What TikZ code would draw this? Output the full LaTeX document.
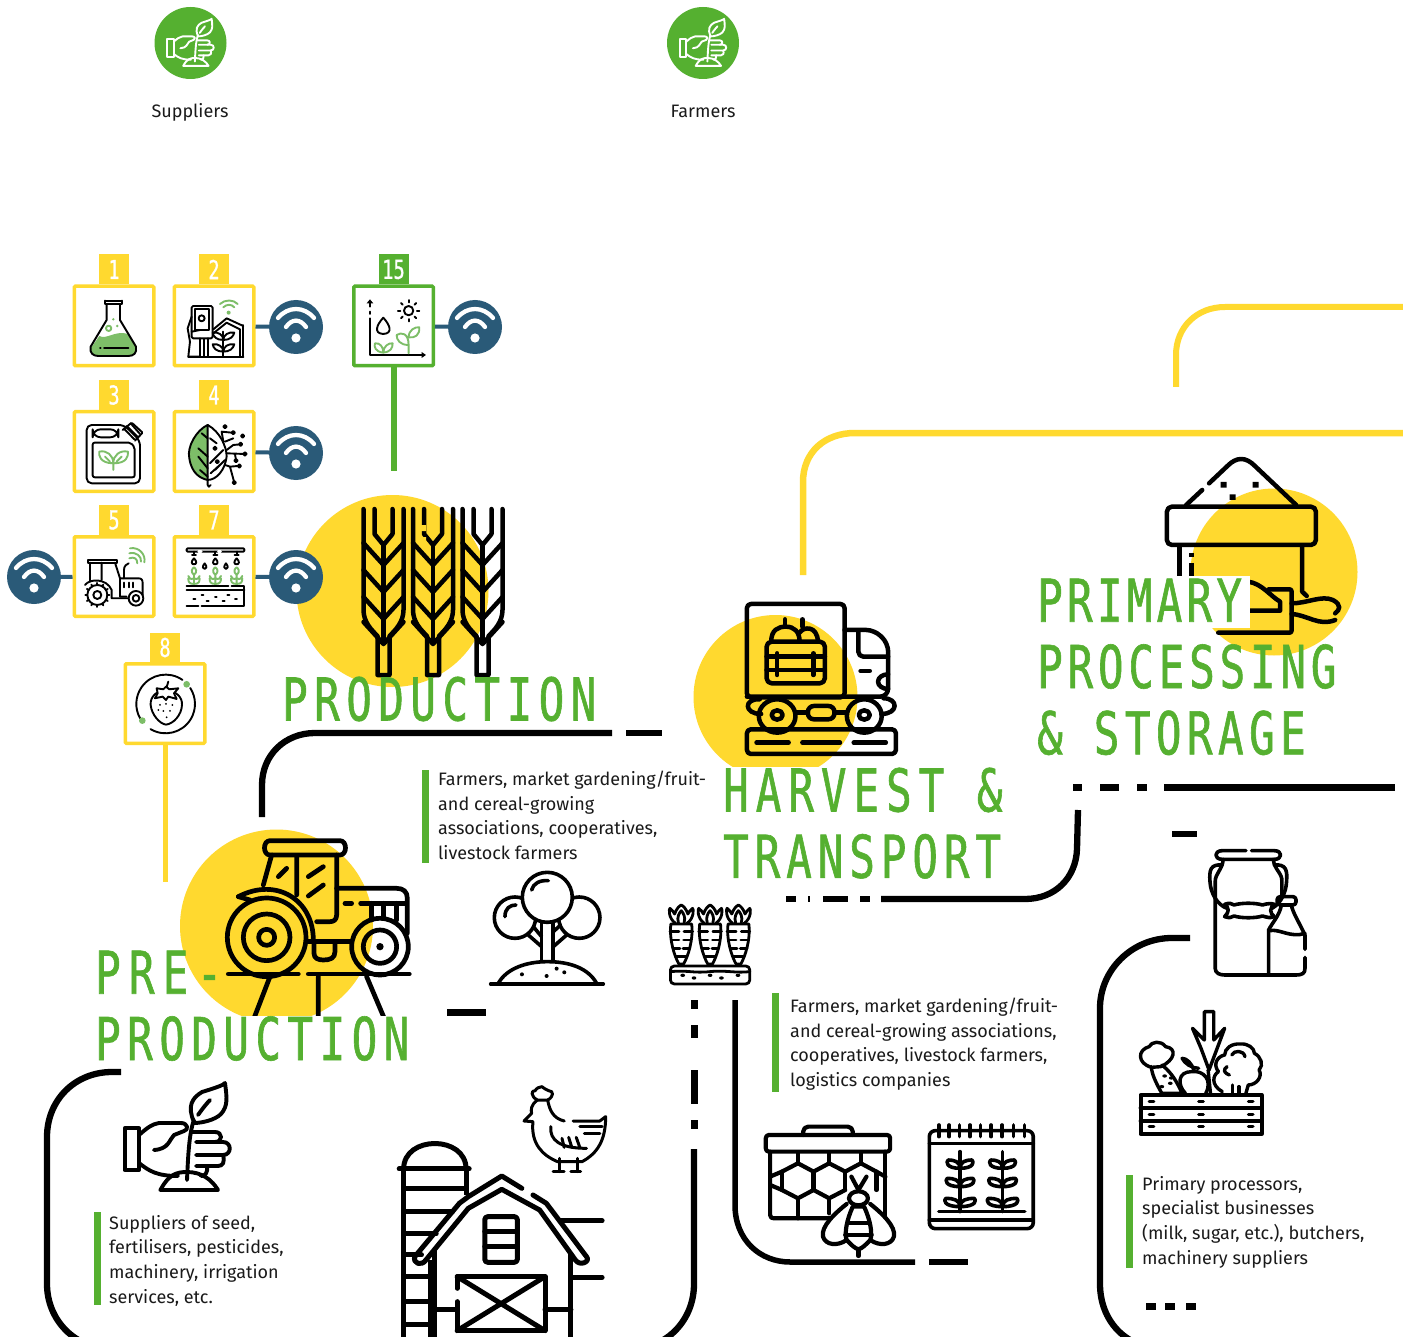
\documentclass[tikz,border=0pt]{standalone}
\usepackage{fontspec}
\setmainfont{Fira Sans}
\newfontfamily\titlefont[FakeStretch=0.72,LetterSpace=9.3,FakeBold=1.0]{DejaVu Sans Mono}
\newfontfamily\numfont[FakeStretch=0.72,FakeBold=0.8]{DejaVu Sans Mono}
\newcommand\ls[2]{{\addfontfeature{LetterSpace=#1}#2}}
\definecolor{ygold}{HTML}{FFD92F}
\definecolor{lgreen}{HTML}{55B030}
\definecolor{pale}{HTML}{7DBE68}
\definecolor{wifib}{HTML}{2A5A78}
\definecolor{ink}{HTML}{1A1A1A}
\tikzset{
  ybox/.style={draw=ygold,line width=3.5pt,fill=white,rounded corners=1pt,minimum size=79.5pt,inner sep=0pt},
  gbox/.style={ybox,draw=lgreen},
  ytab/.style={fill=ygold,minimum width=30pt,minimum height=30pt,inner sep=0pt,text=white,font=\numfont\fontsize{26}{26}\selectfont},
  gtab/.style={ytab,fill=lgreen},
  wdisc/.style={circle,fill=wifib,minimum size=54pt,inner sep=0pt},
  gdisc/.style={circle,fill=lgreen,minimum size=72pt,inner sep=0pt},
  wlink/.style={draw=wifib,line width=4pt},
  title/.style={anchor=north west,inner sep=0pt,text=lgreen,align=left,font=\titlefont\fontsize{59}{66.3}\selectfont},
  bodytext/.style={anchor=north west,inner sep=0pt,text=ink,align=left,font=\fontsize{18}{24.6}\selectfont},
  lab/.style={inner sep=0pt,anchor=base,text=ink,font=\fontsize{18}{22}\selectfont},
  route/.style={draw=black,line width=6.3pt},
  rdash/.style={draw=black,line width=7pt},
  yroute/.style={draw=ygold,line width=6pt},
  bar/.style={fill=lgreen,draw=none},
  ic/.style={draw=black,line width=#1,line cap=round,line join=round},
  ic/.default=4.5pt,
  tiny/.style={draw=black,line width=1.9pt,line cap=round,line join=round},
  tinyg/.style={draw=pale,line width=1.9pt,line cap=round,line join=round},
}
\newcommand\wifimark[1]{\begin{scope}[shift={(#1)}]
 \fill[white] (0,11) circle (4.6);
 \draw[white,line width=4.3pt,line cap=round] (-10,0) .. controls (-4,-8.5) and (4,-8.5) .. (10,0);
 \draw[white,line width=4.3pt,line cap=round] (-18,-9) .. controls (-8,-21) and (8,-21) .. (18,-9);
\end{scope}}
\newcommand\handglyph{%
 \draw (-52.4,-9.7) rectangle (-38,32);
 \draw (-38,-3) .. controls (-30,-10) and (-25,-14) .. (-18,-15) -- (4,-15) .. controls (11,-15) and (12,-8) .. (7,-7) -- (-3,-3) .. controls (-8,2) and (-8,11) .. (-23,12);
 \draw (15,-6) -- (38,-6) .. controls (46,-6) and (46,4) .. (38,4) -- (19,4);
 \draw (38,4) -- (46,4) .. controls (55,4) and (55,17) .. (46,17) -- (19,17);
 \draw (46,17) .. controls (48,24) and (46,28) .. (41,28) -- (19,28);
 \draw (-38,25) .. controls (-28,33) and (-20,38) .. (1,38);
 \draw (30,28) .. controls (31,35) and (28,38) .. (24,38);
 \draw (10,42) .. controls (11,20) and (12,-5) .. (17,-18);
 \draw (17,-16) .. controls (10,-32) and (15,-40) .. (25,-46) .. controls (38,-50) and (47,-53) .. (48,-55) .. controls (50,-40) and (51,-32) .. (44,-24) .. controls (38,-18) and (25,-15) .. (17,-15);
 \draw (21,-23) .. controls (26,-30) and (30,-35) .. (33,-38);
 \draw (-16.6,52) .. controls (-8,36) and (0,34) .. (10,34) .. controls (25,34) and (35,42) .. (41,52) -- cycle;
}
\newcommand\wheatglyph{%
 \draw (-20,509) -- (-20,610) .. controls (-20,622) and (-12,630) .. (-6,636) -- (-6,675) -- (6,675) -- (6,636) .. controls (12,630) and (20,622) .. (20,610) -- (20,509);
 \draw (-9,509) -- (-9,534) -- (0,545) -- (9,534) -- (9,509);
 \draw (0,545) -- (0,640);
 \foreach \yy in {543,570,597,622}{ \draw (-20,\yy) -- (0,\yy+22) -- (20,\yy); }
}
\begin{document}
\begin{tikzpicture}[x=1pt,y=-1pt]
\useasboundingbox (0,0) rectangle (1403,1337);
\clip (0,0) rectangle (1403,1337);
\fill[white] (0,0) rectangle (1403,1337);
% discs
\fill[ygold] (392.5,591) circle (96);
\fill[ygold] (276.5,926) circle (96.5);
\fill[ygold] (775.5,697) circle (82);
\fill[ygold] (1274,572) circle (83.5);
% top actors
\node[gdisc] (sup) at (190.5,43) {};
\node[gdisc] (far) at (703,43) {};
\node[lab] (suplab) at (190,118) {Suppliers};
\node[lab] (farlab) at (703,118) {Farmers};
\begin{scope}[shift={(sup.center)},scale=.44,white,every path/.style={draw=white,line width=1.9pt,line cap=round,line join=round}] \handglyph \end{scope}
\begin{scope}[shift={(far.center)},scale=.44,white,every path/.style={draw=white,line width=1.9pt,line cap=round,line join=round}] \handglyph \end{scope}
% routes
\draw[route] (262,817) -- (262,785) .. controls (262,755) and (285,733) .. (315,733) -- (612,733);
\draw[route] (626,733) -- (662,733);
\draw[rdash] (447,1012) -- (486,1012);
\draw[route] (121,1072) -- (112,1072) .. controls (75,1072) and (47,1100) .. (47,1137) -- (47,1284) .. controls (47,1320) and (75,1349) .. (112,1349) -- (630,1349) .. controls (667,1349) and (694,1320) .. (694,1284) -- (694,1149);
\draw[rdash] (694,1000) -- (694,1009) (694,1025) -- (694,1038) (694,1070) -- (694,1104) (694,1120) -- (694,1129);
\draw[route,line width=5.5pt] (735,1000) -- (735,1205) .. controls (735,1240) and (760,1262) .. (790,1262) -- (915,1262);
\draw[route,line width=5.5pt] (929,1262) -- (968,1262);
\draw[route] (1078,810) -- (1077,849) .. controls (1076,878) and (1055,899) .. (1025,899) -- (881,899);
\draw[route] (786,899) -- (796,899) (808,899) -- (810,899) (823,899) -- (848,899) (860,899) -- (870,899);
\draw[rdash] (1073,787) -- (1082,787) (1100,787) -- (1119,787) (1137,787) -- (1147,787) (1164,787) -- (1395,787);
\draw[route] (1172,834) -- (1197,834);
\draw[route] (1190,938) -- (1172,938) .. controls (1132,938) and (1100,970) .. (1100,1008) -- (1100,1284) .. controls (1100,1320) and (1125,1349) .. (1165,1349);
\draw[rdash] (1146,1306) -- (1156,1306) (1165,1306) -- (1175,1306) (1186,1306) -- (1196,1306);
\draw[yroute] (1176,387) -- (1176,355) .. controls (1176,327) and (1197,307) .. (1225,307) -- (1403,307);
\draw[yroute,line width=6.5pt] (803,575) -- (803,482) .. controls (803,452) and (825,433) .. (855,433) -- (1403,433);
% wheat
\begin{scope}[shift={(383.5,0)},every path/.style={ic}] \wheatglyph \end{scope}
\begin{scope}[shift={(433,0)},every path/.style={ic}] \wheatglyph \end{scope}
\begin{scope}[shift={(482.5,0)},every path/.style={ic}] \wheatglyph \end{scope}
\fill[ygold] (420,525) rectangle (426,531) (420,537) rectangle (426,542);
% tractor
\begin{scope}[shift={(170,820)},scale=.3333,every path/.style={ic=4.7pt}]
 \draw (290,352) circle (118) (290,352) circle (70) (290,352) circle (24);
 \draw (630,380) circle (85) (630,380) circle (50);
 \fill[draw=none] (630,380) circle (11);
 \draw (205,230) .. controls (320,170) and (430,240) .. (430,360);
 \draw (240,240) -- (205,230);
 \draw (300,62) -- (510,62) .. controls (532,62) and (532,105) .. (510,105) -- (300,105) .. controls (278,105) and (278,62) .. (300,62);
 \draw (305,105) -- (280,195) (380,110) -- (380,225) (500,105) -- (500,285) .. controls (500,300) and (490,305) .. (480,305) -- (440,305);
 \draw (350,145) -- (325,170) (460,140) -- (415,170) (460,195) -- (415,228);
 \draw (500,205) -- (680,205) .. controls (700,205) and (712,215) .. (712,235) -- (712,340);
 \draw (525,250) -- (545,250) (572,250) -- (705,250);
 \draw (605,250) -- (605,300) (640,250) -- (640,292) (680,250) -- (680,300);
 \draw (410,365) -- (545,365);
 \draw (432,365) -- (432,400) .. controls (432,415) and (445,420) .. (460,420) .. controls (480,420) and (495,415) .. (495,395) -- (495,365);
 \draw (175,462) -- (385,462) (415,462) -- (718,462);
 \draw (300,470) -- (250,600) (445,470) -- (445,600) (590,470) -- (645,600);
\end{scope}
% tree
\begin{scope}[shift={(170,820)},scale=.3333,every path/.style={ic=3.6pt}]
 \draw[fill=white] (1035,293) circle (62);
 \draw[fill=white] (1228,293) circle (62);
 \draw[fill=white] (1132,232) circle (75);
 \draw (1115,305) -- (1115,420) (1150,305) -- (1150,420);
 \draw (1115,380) -- (1075,345) (1115,350) -- (1090,320) (1150,380) -- (1190,345) (1150,335) -- (1172,315);
 \draw (1005,290) .. controls (1005,265) and (1020,255) .. (1038,255);
 \draw (1085,210) .. controls (1090,190) and (1110,180) .. (1135,182);
 \draw (985,490) .. controls (1010,445) and (1070,425) .. (1132,425) .. controls (1200,425) and (1255,445) .. (1280,490);
 \draw (962,492) -- (1300,492);
 \fill[draw=none] (1056,463) circle (6) (1130,468) circle (6) (1160,446) circle (6) (1183,457) circle (6);
\end{scope}
% truck
\begin{scope}[shift={(679.5,440)},xscale=.4585,yscale=.3333,every path/.style={ic=4.5pt}]
 \draw[rounded corners=4pt] (147,772) -- (147,492) -- (360,492) -- (360,772) -- cycle;
 \draw[rounded corners=8pt] (360,570) -- (425,570) -- (455,610) -- (455,770) -- (147,770);
 \draw[rounded corners=5pt] (390,575) -- (390,650) -- (455,650);
 \draw (395,693) -- (415,693);
 \draw (455,703) arc (-90:-270:22);
 \draw[rounded corners=5pt] (190,605) rectangle (317,730);
 \draw (190,650) -- (317,650) (190,690) -- (317,690) (213,640) -- (213,705) (292,640) -- (292,705);
 \draw (200,605) .. controls (200,570) and (215,560) .. (232,560) .. controls (250,560) and (262,575) .. (262,605);
 \draw (262,578) .. controls (270,560) and (300,555) .. (302,605);
 \draw (230,560) -- (230,538) (268,560) -- (268,538);
 \draw (213,828) circle [x radius=40,y radius=50];
 \draw (403,828) circle [x radius=38,y radius=50];
 \draw (213,825) circle [x radius=12,y radius=14];
 \draw (403,825) circle [x radius=12,y radius=14];
 \draw[rounded corners=6pt] (280,798) rectangle (338,838);
 \draw (255,818) -- (280,818) (338,818) -- (365,818);
 \draw (175,778) .. controls (140,775) and (140,822) .. (178,822);
 \draw (445,775) .. controls (478,775) and (478,822) .. (440,822);
 \draw[rounded corners=4pt] (147,868) rectangle (472,942);
 \draw (168,908) -- (238,908) (268,908) -- (350,908) (380,908) -- (450,908);
\end{scope}
% flour sack
\begin{scope}[shift={(679.5,440)},xscale=.4585,yscale=.3333,every path/.style={ic=4.5pt}]
 \draw (1105,195) -- (1140,150) (1155,130) -- (1195,78) .. controls (1215,50) and (1235,50) .. (1255,78) -- (1345,195);
 \fill[draw=none] (1180,126) rectangle (1193,143) (1250,126) rectangle (1263,143) (1200,163) rectangle (1213,180);
 \draw[rounded corners=5pt] (1063,200) rectangle (1388,315);
 \draw[line cap=butt] (1090,318) -- (1090,420);
 \draw[line cap=butt] (1117,338) -- (1117,352) (1117,370) -- (1117,420);
 \draw (1358,318) -- (1358,455) -- (1368,468);
 \draw (1240,425) .. controls (1270,430) and (1290,470) .. (1310,485) -- (1310,512) -- (1235,512);
 \draw[rounded corners=2pt] (1285,448) -- (1335,448) -- (1335,578) -- (1175,578);
 \draw (1335,490) .. controls (1370,490) and (1400,465) .. (1425,480) .. controls (1445,495) and (1440,510) .. (1430,520);
 \draw (1335,522) .. controls (1370,525) and (1395,560) .. (1430,540);
\end{scope}
% carrots
\begin{scope}[shift={(660,840)},xscale=.4725,yscale=.3333,every path/.style={ic=2.8pt}]
 \foreach \cx in {45,106,166}{
  \begin{scope}[shift={(\cx,0)}]
  \draw (-22,252) -- (22,252) .. controls (26,300) and (14,350) .. (5,372) -- (-5,372) .. controls (-14,350) and (-26,300) .. (-22,252);
  \draw (-24,275) -- (-5,275) (6,275) -- (24,275) (-20,300) -- (-5,300) (5,300) -- (20,300) (-17,325) -- (-3,325) (4,325) -- (18,325) (-12,350) -- (12,350);
  \draw (-12,250) .. controls (-28,235) and (-26,205) .. (-24,205) .. controls (-20,210) and (-16,215) .. (-14,222) .. controls (-10,205) and (-4,198) .. (0,195) .. controls (4,198) and (10,205) .. (14,222) .. controls (16,215) and (20,210) .. (24,205) .. controls (26,205) and (28,235) .. (12,250);
  \draw (-6,248) .. controls (-10,232) and (-4,218) .. (0,212) .. controls (4,218) and (10,232) .. (6,248);
  \end{scope}}
 \draw[rounded corners=4pt] (22,378) rectangle (190,432);
 \draw (22,395) .. controls (60,390) and (70,400) .. (105,395) .. controls (140,390) and (160,400) .. (190,395);
 \fill[draw=none] (48,406) circle (5) (72,414) circle (5) (106,406) circle (5) (130,414) circle (5) (165,406) circle (5);
\end{scope}
% milk
\begin{scope}[shift={(660,840)},xscale=.4725,yscale=.3333,every path/.style={ic=3.6pt}]
 \draw (1240,32) -- (1190,32) .. controls (1172,32) and (1172,58) .. (1190,58) -- (1300,58) .. controls (1318,58) and (1318,32) .. (1300,32) -- (1252,32);
 \draw (1192,58) .. controls (1190,90) and (1175,100) .. (1175,125) -- (1175,385) .. controls (1175,400) and (1185,405) .. (1195,405) -- (1345,405) .. controls (1360,405) and (1365,400) .. (1365,385) -- (1365,352);
 \draw (1365,328) -- (1365,285) .. controls (1350,240) and (1340,220) .. (1336,195);
 \draw (1298,58) .. controls (1300,90) and (1318,100) .. (1316,125) -- (1316,170);
 \draw[rounded corners=3pt] (1306,170) rectangle (1346,195);
 \draw (1315,195) .. controls (1312,225) and (1295,250) .. (1288,270) -- (1288,400);
 \draw (1290,272) .. controls (1310,265) and (1335,295) .. (1365,280);
 \draw (1190,75) .. controls (1165,72) and (1162,90) .. (1164,125) .. controls (1165,160) and (1180,195) .. (1200,205);
 \draw (1300,75) .. controls (1325,72) and (1328,90) .. (1326,125) .. controls (1325,155) and (1315,190) .. (1295,205);
 \draw (1215,195) .. controls (1230,188) and (1260,188) .. (1275,195) .. controls (1285,190) and (1295,190) .. (1300,193) .. controls (1290,205) and (1290,218) .. (1300,230) .. controls (1290,235) and (1285,232) .. (1275,228) .. controls (1260,235) and (1230,235) .. (1215,228) .. controls (1210,232) and (1205,235) .. (1195,230) .. controls (1205,215) and (1205,205) .. (1195,193) .. controls (1205,188) and (1210,190) .. (1215,195);
\end{scope}
% veg crate
\begin{scope}[shift={(660,840)},xscale=.4725,yscale=.3333,every path/.style={ic=4pt}]
 \draw (1017,765) rectangle (1273,882);
 \draw (1017,803) -- (1273,803) (1017,843) -- (1273,843);
 \foreach \vx in {1040,1145,1250}{\foreach \vy in {785,823,860}{\draw[line width=3pt] (\vx-5,\vy) -- (\vx+5,\vy);}}
 \draw[line width=3.4pt] (1152,515) -- (1152,600) -- (1127,565) -- (1145,625) -- (1162,690) -- (1195,565) -- (1172,600) -- (1172,515) -- (1152,515);
 \draw[line width=3.4pt] (1160,690) -- (1165,760);
 \draw[line width=3.4pt] (1060,680) .. controls (1090,660) and (1095,625) .. (1070,620) .. controls (1060,600) and (1040,605) .. (1035,620) .. controls (1010,630) and (1010,670) .. (1040,682) -- (1060,680);
 \draw[line width=3.4pt] (1040,680) .. controls (1040,700) and (1050,730) .. (1062,760) -- (1105,760) .. controls (1095,730) and (1085,700) .. (1062,675);
 \fill[draw=none] (1068,708) circle (5) (1082,714) circle (5) (1062,740) circle (5) (1080,730) circle (5);
 \draw[line width=3.4pt] (1112,760) .. controls (1095,735) and (1095,695) .. (1125,695) .. controls (1150,690) and (1170,720) .. (1155,760);
 \draw[line width=3.4pt] (1130,690) .. controls (1125,670) and (1115,655) .. (1105,655) .. controls (1110,670) and (1125,685) .. (1140,685);
 \draw[line width=3.4pt] (1190,755) .. controls (1165,735) and (1170,705) .. (1182,695) .. controls (1170,675) and (1178,650) .. (1195,645) .. controls (1195,625) and (1210,610) .. (1228,612) .. controls (1245,610) and (1258,625) .. (1258,640) .. controls (1272,650) and (1278,675) .. (1268,690) .. controls (1276,710) and (1262,735) .. (1245,735) -- (1240,760);
 \draw[line width=3.4pt] (1210,645) .. controls (1215,630) and (1235,630) .. (1238,650) (1200,680) .. controls (1190,690) and (1195,700) .. (1205,705);
 \draw[line width=3.4pt] (1212,735) -- (1212,760) (1225,740) -- (1225,760);
\end{scope}
% hive
\begin{scope}[shift={(660,840)},xscale=.4725,yscale=.3333,every path/.style={ic=4.2pt}]
 \draw[rounded corners=3pt] (224,885) rectangle (487,935);
 \draw[rounded corners=5pt] (303,885) -- (303,860) -- (408,860) -- (408,885);
 \draw (233,935) -- (233,1125) .. controls (233,1132) and (236,1135) .. (243,1135) -- (360,1135);
 \draw (477,935) -- (477,1125);
 \draw (292,940) -- (292,970) (358,940) -- (358,970) (425,940) -- (425,970);
 \draw (233,1010) -- (258,995) -- (292,970) -- (325,995) -- (358,970) -- (392,995) -- (425,970) -- (458,995) -- (477,1010);
 \draw (258,995) -- (258,1050) (325,995) -- (325,1050) (392,995) -- (392,1050) (458,995) -- (458,1050);
 \draw (233,1035) -- (258,1050) -- (292,1075) -- (325,1050) -- (358,1075) -- (392,1050);
 \draw (292,1075) -- (292,1135) (358,1075) -- (358,1120);
 \draw[fill=white] (420,1075) circle [x radius=20,y radius=21];
 \draw (405,1010) -- (420,1050) -- (437,1010);
 \draw[fill=white] (395,1092) .. controls (370,1120) and (340,1160) .. (345,1190) .. controls (350,1215) and (375,1220) .. (395,1200);
 \draw[fill=white] (445,1092) .. controls (470,1120) and (500,1160) .. (495,1190) .. controls (490,1215) and (465,1220) .. (445,1200);
 \draw[fill=white] (408,1100) .. controls (395,1140) and (390,1180) .. (395,1200) .. controls (405,1215) and (412,1225) .. (420,1228) .. controls (428,1225) and (435,1215) .. (445,1200) .. controls (450,1180) and (445,1140) .. (432,1100) -- cycle;
 \draw (398,1150) -- (442,1150) (392,1185) -- (448,1185);
 \draw (420,1228) -- (420,1248);
\end{scope}
% calendar
\begin{scope}[shift={(660,840)},xscale=.4725,yscale=.3333,every path/.style={ic=3.6pt}]
 \draw[rounded corners=6pt] (570,872) rectangle (790,1166);
 \draw (570,910) -- (790,910) (570,1140) -- (790,1140);
 \foreach \rx in {590,612,634,656,678,701,724,748,771}{\draw (\rx,855) -- (\rx,890);}
 \draw (590,1115) -- (772,1115);
 \foreach \px in {635,725}{
  \draw (\px,935) -- (\px,1115);
  \foreach \py/\pw in {960/25,1015/27,1075/30}{
   \draw (\px,\py+25) .. controls (\px-\pw-5,\py+25) and (\px-\pw-5,\py+5) .. (\px-\pw,\py) .. controls (\px-\pw/2,\py) and (\px,\py+5) .. (\px,\py+25);
   \draw (\px,\py+25) .. controls (\px+\pw+5,\py+25) and (\px+\pw+5,\py+5) .. (\px+\pw,\py) .. controls (\px+\pw/2,\py) and (\px,\py+5) .. (\px,\py+25);
  }}
\end{scope}
% big hand
\begin{scope}[shift={(177,1138)},every path/.style={ic=3.9pt}] \handglyph \end{scope}
% barn and chicken
\begin{scope}[shift={(0,1060)},xscale=.446,yscale=.3333,every path/.style={ic=5pt}]
 \draw (905,327) .. controls (905,225) and (1045,225) .. (1045,327);
 \draw (895,327) -- (1052,327);
 \draw[line cap=butt] (905,327) -- (905,850) (1045,327) -- (1045,405) (965,600) -- (965,850);
 \draw (905,385) -- (1045,385) (905,455) -- (1015,455) (905,522) -- (978,522) (905,585) -- (945,585) (905,650) -- (965,650) (905,725) -- (965,725) (905,795) -- (965,795);
 \draw (1170,385) -- (1125,348) -- (1050,410) -- (1030,430) -- (930,590) .. controls (925,610) and (945,620) .. (955,600) -- (1050,445) -- (1125,388) -- (1210,450) -- (1290,600) .. controls (1300,620) and (1325,605) .. (1315,590) -- (1225,430) -- (1195,405);
 \draw[line cap=butt] (975,570) -- (975,850) (1280,580) -- (1280,850);
 \draw[rounded corners=3pt] (1087,470) rectangle (1160,607);
 \draw (1087,515) -- (1160,515) (1087,560) -- (1160,560);
 \draw (1025,685) -- (1025,650) -- (1222,650) -- (1222,812) -- (1025,812) -- (1025,725);
 \draw (1025,650) -- (1222,812) (1222,650) -- (1025,812);
 \draw (975,750) -- (1025,750) (1222,750) -- (1280,750);
 \draw (1255,483) -- (1350,483) (1285,652) -- (1350,652);
\end{scope}
\begin{scope}[shift={(0,1060)},xscale=.446,yscale=.3333,every path/.style={ic=3pt}]
 \draw (1205,120) .. controls (1190,110) and (1190,90) .. (1200,92) .. controls (1202,85) and (1210,80) .. (1215,80) .. controls (1220,85) and (1225,90) .. (1230,92) .. controls (1242,92) and (1242,110) .. (1228,120) -- (1205,120);
 \draw (1205,120) .. controls (1190,135) and (1190,150) .. (1192,160) -- (1175,183) -- (1195,185) .. controls (1190,250) and (1215,285) .. (1250,305) -- (1305,305) .. controls (1340,280) and (1358,240) .. (1358,170) -- (1345,183) -- (1285,183);
 \draw (1228,120) .. controls (1232,150) and (1240,175) .. (1265,183);
 \draw (1235,200) .. controls (1232,240) and (1255,265) .. (1315,265);
 \draw (1260,235) -- (1265,262) (1275,232) -- (1282,262) (1292,232) -- (1300,262);
 \draw (1300,200) -- (1350,200) (1310,220) -- (1345,220);
 \draw (1255,295) -- (1255,335) (1295,295) -- (1295,335) (1240,335) -- (1265,335) (1280,335) -- (1302,335);
\end{scope}
% title masks
\fill[white] (1038,576) rectangle (1250,628);
\fill[white] (724,767) rectangle (1006,818);
\fill[white] (97,1016) rectangle (410,1062);
% titles
\node[title] (tpro) at (282,676.5) {\ls{11}{PRODUCTION}};
\node[title] (tpre) at (95,950.5) {\ls{14}{PRE-}\\\ls{11}{PRODUCTION}};
\node[title] (thar) at (723,767.5) {\ls{11.9}{HARVEST \&}\\\ls{10.1}{TRANSPORT}};
\node[title] (tpri) at (1037,578.5) {\ls{7.3}{PRIMARY}\\\ls{8.2}{PROCESSING}\\\ls{9.3}{\& STORAGE}};
% bars and body text
\fill[bar] (422,770) rectangle (429,863);
\fill[bar] (772,993) rectangle (778.5,1092);
\fill[bar] (1126,1175) rectangle (1132.5,1268);
\fill[bar] (94,1212) rectangle (101,1305);
\node[bodytext] (t1) at (438,771) {Farmers, market gardening/fruit-\\and cereal-growing\\associations, cooperatives,\\livestock farmers};
\node[bodytext] (t2) at (790,998) {Farmers, market gardening/fruit-\\and cereal-growing associations,\\cooperatives, livestock farmers,\\logistics companies};
\node[bodytext] (t3) at (1142,1176) {Primary processors,\\specialist businesses\\(milk, sugar, etc.), butchers,\\machinery suppliers};
\node[bodytext] (t4) at (109,1215) {Suppliers of seed,\\fertilisers, pesticides,\\machinery, irrigation\\services, etc.};
% boxes
\node[ybox] (b1) at (114,326) {};
\node[ybox] (b2) at (214,326) {};
\node[gbox] (b15) at (393.5,326) {};
\node[ybox] (b3) at (114,451.5) {};
\node[ybox] (b4) at (214,451.5) {};
\node[ybox] (b5) at (114,576.5) {};
\node[ybox] (b7) at (214,576.5) {};
\node[ybox] (b8) at (165,703.5) {};
\node[ytab] (n1) at (114,269.5) {1};
\node[ytab] (n2) at (214,269.5) {2};
\node[gtab] (n15) at (393.5,269.5) {15};
\node[ytab] (n3) at (114,395) {3};
\node[ytab] (n4) at (214,395) {4};
\node[ytab] (n5) at (114,520) {5};
\node[ytab] (n7) at (214,520) {7};
\node[ytab] (n8) at (165,647.5) {8};
\node[wdisc] (w2) at (296,327) {};
\node[wdisc] (w4) at (296,453) {};
\node[wdisc] (w7) at (296,577) {};
\node[wdisc] (w5) at (34,577) {};
\node[wdisc] (w15) at (475,327) {};
\draw[wlink] (b2) -- (w2);
\draw[wlink] (b4) -- (w4);
\draw[wlink] (b7) -- (w7);
\draw[wlink] (b5) -- (w5);
\draw[wlink] (b15) -- (w15);
\wifimark{w2.center}\wifimark{w4.center}\wifimark{w7.center}\wifimark{w5.center}\wifimark{w15.center}
\coordinate (c15) at (393.5,471);
\coordinate (c8) at (165,882);
\draw[draw=lgreen,line width=6pt] (b15.south) -- (c15);
\draw[draw=ygold,line width=5pt] (b8.south) -- (c8);
% box icons in 3x coordinates
\begin{scope}[shift={(0,250)},scale=.3333,every path/.style={tiny}]
 % flask
 \fill[pale,draw=none] (298,258) .. controls (320,270) and (345,240) .. (385,252) -- (408,295) .. controls (408,310) and (400,318) .. (385,318) -- (295,318) .. controls (280,318) and (272,310) .. (272,295) -- cycle;
 \draw (320,162) -- (320,210) -- (272,290) .. controls (268,310) and (280,318) .. (295,318) -- (385,318) .. controls (400,318) and (412,310) .. (408,290) -- (360,210) -- (360,162);
 \draw (315,152) -- (365,152) (315,152) -- (315,162) -- (365,162) -- (365,152);
 \draw (300,295) -- (302,295) (312,295) -- (385,295);
 \draw[tinyg] (326,235) circle (8);
 \fill[pale,draw=none] (340,208) circle (4) (352,228) circle (4);
 % phone and greenhouse
 \draw[rounded corners=1.5pt] (575,168) rectangle (638,265);
 \draw (585,178) -- (628,178) -- (628,240) -- (585,240) -- cycle;
 \draw (605,205) circle (9);
 \draw (575,200) -- (563,235) -- (570,275) -- (565,320) -- (600,320) -- (600,265);
 \draw (575,245) -- (600,240);
 \draw (612,268) -- (612,320) (625,265) -- (625,320) (730,225) -- (730,320);
 \draw (640,238) -- (680,205) -- (730,228) (640,250) -- (680,218) -- (720,238) -- (720,320);
 \draw (565,320) -- (730,320);
 \draw (670,245) -- (670,320);
 \draw (670,270) .. controls (650,270) and (640,260) .. (638,248) .. controls (655,245) and (670,255) .. (670,270) .. controls (670,255) and (685,245) .. (703,248) .. controls (700,260) and (690,270) .. (670,270);
 \draw (670,305) .. controls (650,305) and (640,295) .. (638,283) .. controls (655,280) and (670,290) .. (670,305) .. controls (670,290) and (685,280) .. (703,283) .. controls (700,295) and (690,305) .. (670,305);
 \draw[tinyg] (660,162) .. controls (675,148) and (700,148) .. (713,162) (670,172) .. controls (680,162) and (695,162) .. (703,172);
 \fill[pale,draw=none] (686,188) circle (6);
 % chart
 \draw (1110,205) -- (1110,315) -- (1272,315);
 \draw (1110,158) -- (1110,170) (1110,185) -- (1110,192);
 \fill[draw=none] (1100,160) -- (1110,148) -- (1120,160) -- cycle (1265,306) -- (1278,315) -- (1265,324) -- cycle;
 \draw (1226,182) circle (14);
 \foreach \ra in {0,45,...,315}{\draw (1226,182) ++(\ra:25) -- ++(\ra:7);}
 \draw (1150,203) .. controls (1170,225) and (1180,250) .. (1150,252) .. controls (1120,250) and (1130,225) .. (1150,203);
 \draw[tinyg] (1150,308) .. controls (1125,305) and (1122,290) .. (1125,280) .. controls (1140,278) and (1150,290) .. (1150,308) .. controls (1150,290) and (1165,278) .. (1178,280) .. controls (1178,295) and (1172,305) .. (1150,308);
 \draw[tinyg] (1226,310) -- (1226,285) .. controls (1200,285) and (1190,270) .. (1190,255) .. controls (1205,245) and (1226,250) .. (1226,285) (1226,262) .. controls (1226,240) and (1245,230) .. (1258,232) .. controls (1260,255) and (1245,265) .. (1226,262);
 % canister
 \draw[rounded corners=5pt] (260,525) -- (372,525) -- (420,572) -- (420,700) -- (260,700) -- cycle;
 \draw[rounded corners=2pt] (278,578) -- (392,578) -- (404,592) -- (404,682) -- (278,682) -- cycle;
 \draw[rounded corners=8pt] (278,538) rectangle (355,562);
 \draw[rounded corners=1pt] (368,540) -- (395,518) -- (428,548) -- (405,572);
 \draw (380,528) -- (412,560) (392,520) -- (420,552) (372,536) -- (403,568);
 \draw[tinyg] (340,660) -- (340,640) .. controls (300,640) and (295,615) .. (298,605) .. controls (320,600) and (340,615) .. (340,640) .. controls (340,615) and (360,600) .. (384,605) .. controls (385,620) and (380,640) .. (340,640);
 \draw[tinyg] (315,620) -- (330,635) (365,620) -- (350,635);
 % leaf
 \fill[pale,draw=none] (623,525) .. controls (590,540) and (560,590) .. (568,625) .. controls (575,670) and (600,685) .. (623,690) -- cycle;
 \draw (623,525) .. controls (590,540) and (560,590) .. (568,625) .. controls (575,670) and (600,685) .. (623,690);
 \draw (623,525) .. controls (660,545) and (680,590) .. (680,620) .. controls (675,660) and (650,690) .. (623,690);
 \draw (623,525) -- (623,705) (623,705) .. controls (623,712) and (630,712) .. (632,705);
 \draw (623,620) -- (595,595) (623,655) -- (595,620) (623,565) -- (605,550) (623,680) -- (600,660);
 \draw (645,660) -- (675,630) (630,640) -- (670,600) (632,670) -- (665,640) (650,580) -- (630,565);
 \draw (645,595) circle (5) (652,635) circle (5);
 \draw (670,575) -- (665,545) (665,545) -- (695,548) (680,600) -- (700,585) -- (722,583) (680,610) -- (733,612) (705,612) -- (708,630) (675,645) -- (690,650) -- (715,648) (690,650) -- (703,698) (675,575) -- (700,565);
 \draw[fill=white] (675,530) circle (5) (700,548) circle (5) (728,558) circle (5) (722,583) circle (5) (735,612) circle (5) (708,632) circle (5) (718,648) circle (5) (703,698) circle (5);
 % tractor small
 \draw (292,1035) circle (30) (292,1035) circle (12);
 \foreach \ra in {0,30,...,330}{\draw (292,1035) ++(\ra:30) -- ++(\ra:6);}
 \draw (408,1045) circle (22) (408,1045) circle (10);
 \draw (265,930) -- (350,930) -- (350,938) -- (265,938) -- cycle;
 \draw (270,938) -- (270,995) (345,938) -- (360,985) -- (360,1040) -- (380,1040) (305,938) -- (305,990);
 \draw (255,1005) .. controls (270,985) and (320,985) .. (335,1020) -- (335,1045) -- (385,1045);
 \draw (360,985) -- (415,985) .. controls (425,985) and (428,990) .. (428,1000) -- (428,1035);
 \draw (372,998) -- (372,1012) (387,998) -- (387,1012) (398,998) -- (398,1012);
 \draw (372,985) -- (372,960) .. controls (372,948) and (380,942) .. (386,940);
 \draw[tinyg] (388,925) .. controls (402,920) and (412,925) .. (412,940) (388,910) .. controls (410,905) and (425,920) .. (423,935) (390,895) .. controls (418,890) and (438,915) .. (433,937);
 % irrigation
 \draw[rounded corners=1pt] (560,895) -- (733,895) -- (733,905) -- (560,905) -- cycle;
 \draw[draw=white,line width=2.5pt] (596,905) -- (604,905) (655,905) -- (662,905);
 \foreach \ix in {582,646,710}{
  \draw (\ix,905) -- (\ix,915) (\ix-6,915) -- (\ix+6,915);
  \draw (\ix,925) .. controls (\ix+10,935) and (\ix+8,943) .. (\ix,943) .. controls (\ix-8,943) and (\ix-10,935) .. (\ix,925);
  \draw[tinyg] (\ix,1000) -- (\ix,985) (\ix,975) .. controls (\ix-12,965) and (\ix-5,955) .. (\ix,952) .. controls (\ix+5,955) and (\ix+12,965) .. (\ix,975) -- (\ix,985) .. controls (\ix-10,990) and (\ix-15,985) .. (\ix-17,978) (\ix,985) .. controls (\ix+10,990) and (\ix+15,985) .. (\ix+17,978) (\ix,1002) .. controls (\ix-15,1002) and (\ix-17,995) .. (\ix-17,985) (\ix,1002) .. controls (\ix+15,1002) and (\ix+17,995) .. (\ix+17,985);
 }
 \foreach \ix in {614,678}{\draw (\ix,940) .. controls (\ix+8,950) and (\ix+6,957) .. (\ix,957) .. controls (\ix-6,957) and (\ix-8,950) .. (\ix,940);}
 \draw (560,1008) -- (685,1008) (695,1008) -- (733,1008) -- (733,1068) -- (605,1068) (595,1068) -- (560,1068) -- cycle;
 \draw (560,1020) -- (733,1020);
 \draw (580,1048) -- (586,1048) (605,1035) -- (610,1035) (620,1052) -- (626,1052) (645,1042) -- (650,1042) (668,1054) -- (674,1054) (682,1035) -- (688,1035) (705,1048) -- (711,1048);
 % strawberry
 \draw (497,1362) ++(-55:88) arc (-55:-210:88);
 \draw (497,1362) ++(121:88) arc (121:-33:88);
 \fill[pale,draw=none] (560,1303) circle (10) (427,1412) circle (10);
 \draw (498,1320) .. controls (470,1322) and (450,1340) .. (452,1365) .. controls (455,1395) and (480,1422) .. (498,1424) .. controls (520,1422) and (545,1395) .. (546,1365) .. controls (548,1340) and (525,1322) .. (498,1320);
 \draw (498,1318) -- (505,1295);
 \draw[fill=white] (470,1315) -- (490,1318) -- (498,1310) -- (508,1318) -- (535,1315) -- (522,1330) -- (530,1347) -- (505,1340) -- (498,1350) -- (488,1340) -- (465,1345) -- (473,1330) -- cycle;
 \foreach \sx/\sy in {480/1365,498/1362,517/1365,490/1383,510/1383,500/1402,475/1380}{\fill[draw=none] (\sx,\sy) circle (3);}
\end{scope}
\end{tikzpicture}
\end{document}
